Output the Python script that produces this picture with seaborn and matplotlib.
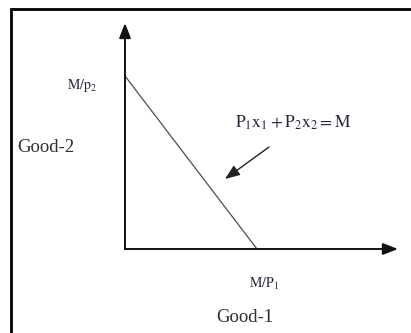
import numpy as np
import pandas as pd
import seaborn as sns
import matplotlib.pyplot as plt
from matplotlib.patches import Rectangle

# Budget line: intercepts on each axis (M/p1 on good-1, M/p2 on good-2)
good_1 = [0, 132]
good_2 = [173, 0]

label_y_intercept = r'$\mathrm{M/p_2}$'
label_x_intercept = r'$\mathrm{M/P_1}$'
label_equation = r'$\mathrm{P_1x_1 + P_2x_2 = M}$'
label_y_axis = 'Good-2'
label_x_axis = 'Good-1'


def draw_budget_line():
    sns.set_theme(style='white')
    plt.rcParams['font.family'] = ['Liberation Serif', 'DejaVu Serif']
    plt.rcParams['mathtext.fontset'] = 'stix'

    fig = plt.figure(figsize=(4.11, 3.33), dpi=100)
    ax = fig.add_axes([0, 0, 1, 1])
    # 1 data unit = 1 pixel, origin at the corner of the two axes
    ax.set_xlim(-125, 286)
    ax.set_ylim(-84, 249)
    ax.set_axis_off()

    # Frame around the picture (runs off the right and bottom edges)
    ax.add_patch(Rectangle((-114.5, -200), 600, 440.5, fill=False,
                           edgecolor='black', linewidth=2.0))

    # Axes with arrow heads
    head = dict(arrowstyle='-|>,head_length=0.9,head_width=0.35',
                color='#111111', lw=1.4, shrinkA=0, shrinkB=0,
                mutation_scale=10)
    ax.annotate('', xy=(0, 226), xytext=(0, 0), arrowprops=head)
    ax.annotate('', xy=(273, 0), xytext=(0, 0), arrowprops=head)

    # Budget line
    df = pd.DataFrame({'good_1': good_1, 'good_2': good_2})
    sns.lineplot(data=df, x='good_1', y='good_2', ax=ax, color='#4d4d4d',
                 linewidth=0.9)

    # Pointer to the budget line
    ax.annotate('', xy=(100, 70), xytext=(144, 102),
                arrowprops=dict(arrowstyle='-|>,head_length=0.9,head_width=0.35',
                                color='#222222', lw=1.0, shrinkA=0, shrinkB=0,
                                mutation_scale=10))

    txt = '#26263a'
    ax.text(-43, 163, label_y_intercept, fontsize=10, color=txt,
            ha='center', va='center')
    ax.text(139, -35, label_x_intercept, fontsize=10, color=txt,
            ha='center', va='center')
    ax.text(168, 126, label_equation, fontsize=12.5, color=txt,
            ha='center', va='center')
    ax.text(-79, 102, label_y_axis, fontsize=13.5, color='#2e2e2e',
            ha='center', va='center')
    ax.text(120, -69, label_x_axis, fontsize=13.5, color='#2e2e2e',
            ha='center', va='center')

    ax.set_xlabel('')
    ax.set_ylabel('')
    fig.savefig('out.png', dpi=100)


if __name__ == "__main__":
    draw_budget_line()
